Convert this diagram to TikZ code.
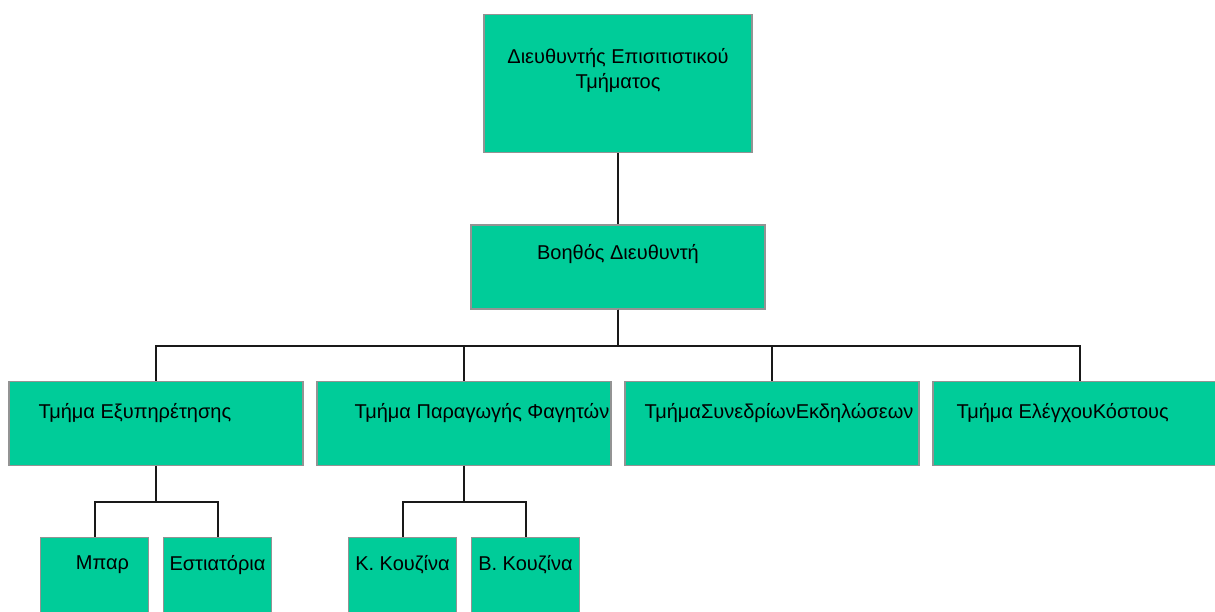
\documentclass[tikz,border=0pt]{standalone}
\usepackage{fontspec}
\setmainfont{Liberation Sans}
\usetikzlibrary{trees,calc}
\definecolor{boxgreen}{RGB}{0,204,153}

\begin{document}
\begin{tikzpicture}[x=1pt,y=1pt,
  growth parent anchor=south,level distance=71pt,
  every child node/.style={anchor=north},
  edge from parent/.style={draw=black!90,line width=2pt},
  edge from parent path={(\tikzparentnode.south) -- ++(0,-36) -| (\tikzchildnode.north)},
  font=\fontsize{20}{25}\selectfont]
\tikzstyle{unit}=[draw=gray!85,line width=1.3pt,fill=boxgreen,anchor=north,inner sep=0pt,minimum width=294pt,minimum height=84pt]
\tikzstyle{small}=[unit,minimum width=108pt]
\tikzstyle{lbl}=[inner sep=0pt]
\tikzstyle{level 2}=[sibling distance=308pt]
\tikzstyle{level 3}=[sibling distance=123pt]

\clip (0,0) rectangle (1215,-612);

\node[unit,minimum width=268pt,minimum height=138pt] (dir) at (618,-14) {}
  child { node[unit] (asst) {}
    child { node[unit] (serv) {}
      child { node[small] (bar) {}}
      child { node[small] (rest) {}}
    }
    child { node[unit] (prod) {}
      child { node[small] (kk) {}}
      child { node[small] (bk) {}}
    }
    child { node[unit] (conf) {}}
    child { node[unit] (cost) {}}
  };

% texts
\node[lbl,align=center] (tdir) at ($(dir.north)+(0,-57)$) {Διευθυντής Επισιτιστικού\\Τμήματος};
\node[lbl] (tasst) at ($(asst.north)+(0,-30)$) {Βοηθός Διευθυντή};
\node[lbl,anchor=west] (tserv) at ($(serv.north west)+(30,-32)$) {Τμήμα Εξυπηρέτησης};
\node[lbl,anchor=west] (tprod) at ($(prod.north west)+(38,-32)$) {Τμήμα Παραγωγής Φαγητών};
\node[lbl,anchor=west] (tconf) at ($(conf.north west)+(20,-32)$) {ΤμήμαΣυνεδρίωνΕκδηλώσεων};
\node[lbl,anchor=west] (tcost) at ($(cost.north west)+(24,-32)$) {Τμήμα ΕλέγχουΚόστους};
\node[lbl] (tbar) at ($(bar.north)+(8,-28)$) {Μπαρ};
\node[lbl] (trest) at ($(rest.north)+(0,-28)$) {Εστιατόρια};
\node[lbl] (tkk) at ($(kk.north)+(0,-28)$) {Κ. Κουζίνα};
\node[lbl] (tbk) at ($(bk.north)+(0,-28)$) {Β. Κουζίνα};
\end{tikzpicture}
\end{document}
